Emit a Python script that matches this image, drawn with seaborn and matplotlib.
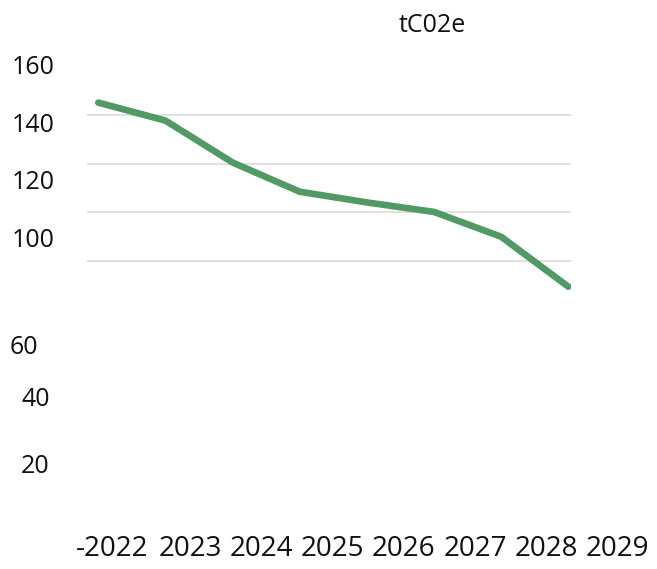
import matplotlib
matplotlib.use("Agg")
import matplotlib.pyplot as plt
import pandas as pd
import seaborn as sns

# data
years = [2022, 2023, 2024, 2025, 2026, 2027, 2028, 2029]
emissions = [145.1, 137.7, 120.5, 108.5, 104.1, 100.2, 90.0, 69.5]  # tC02e
grid_values = [140, 120, 100, 80]
y_labels = ["160", "140", "120", "100", "60", "40", "20"]
x_labels = ["-2022", "2023", "2024", "2025", "2026", "2027", "2028", "2029"]
unit = "tC02e"

# layout (pixels of a 657x569 picture)
W, H = 657, 569
ylab_px = [(11.5, 67.7), (11.5, 125), (11.5, 182.7), (11.5, 241),
           (10, 348), (21, 400), (21, 466.7)]
xlab_cx = [112] + [190 + i * 71.3 for i in range(7)]

sns.set_style("white")
plt.rcParams["font.family"] = ["Open Sans", "DejaVu Sans"]

fig = plt.figure(figsize=(W / 100, H / 100), dpi=100)
ax = fig.add_axes([87 / W, 1 - 500 / H, 484 / W, 460 / H])

df = pd.DataFrame({"year": years, "tco2e": emissions})

for g in grid_values:
    ax.axhline(g, color="#dcdcdc", lw=1.2, zorder=1)

sns.lineplot(data=df, x="year", y="tco2e", ax=ax, color="#519a65",
             lw=4.8, solid_capstyle="round", solid_joinstyle="round", zorder=3)

ax.set_xlim(2021.832, 2029.04)
ax.set_ylim(-18.1, 170.8)
ax.set_xticks([])
ax.set_yticks([])
ax.set_xlabel("")
ax.set_ylabel("")
sns.despine(ax=ax, left=True, bottom=True)


def fx(px):
    return px / W


def fy(py):
    return 1 - py / H


for lab, (px, py) in zip(y_labels, ylab_px):
    fig.text(fx(px), fy(py), lab, ha="left", va="center", fontsize=18, color="#111111")

# x labels sit right on the bottom edge in the original, nudged up to stay inside
for lab, cx in zip(x_labels, xlab_cx):
    fig.text(fx(cx), fy(549.5), lab, ha="center", va="center", fontsize=20, color="#111111")

fig.text(fx(432), fy(25), unit, ha="center", va="center", fontsize=18, color="#111111")

fig.savefig("out.png", dpi=100)
